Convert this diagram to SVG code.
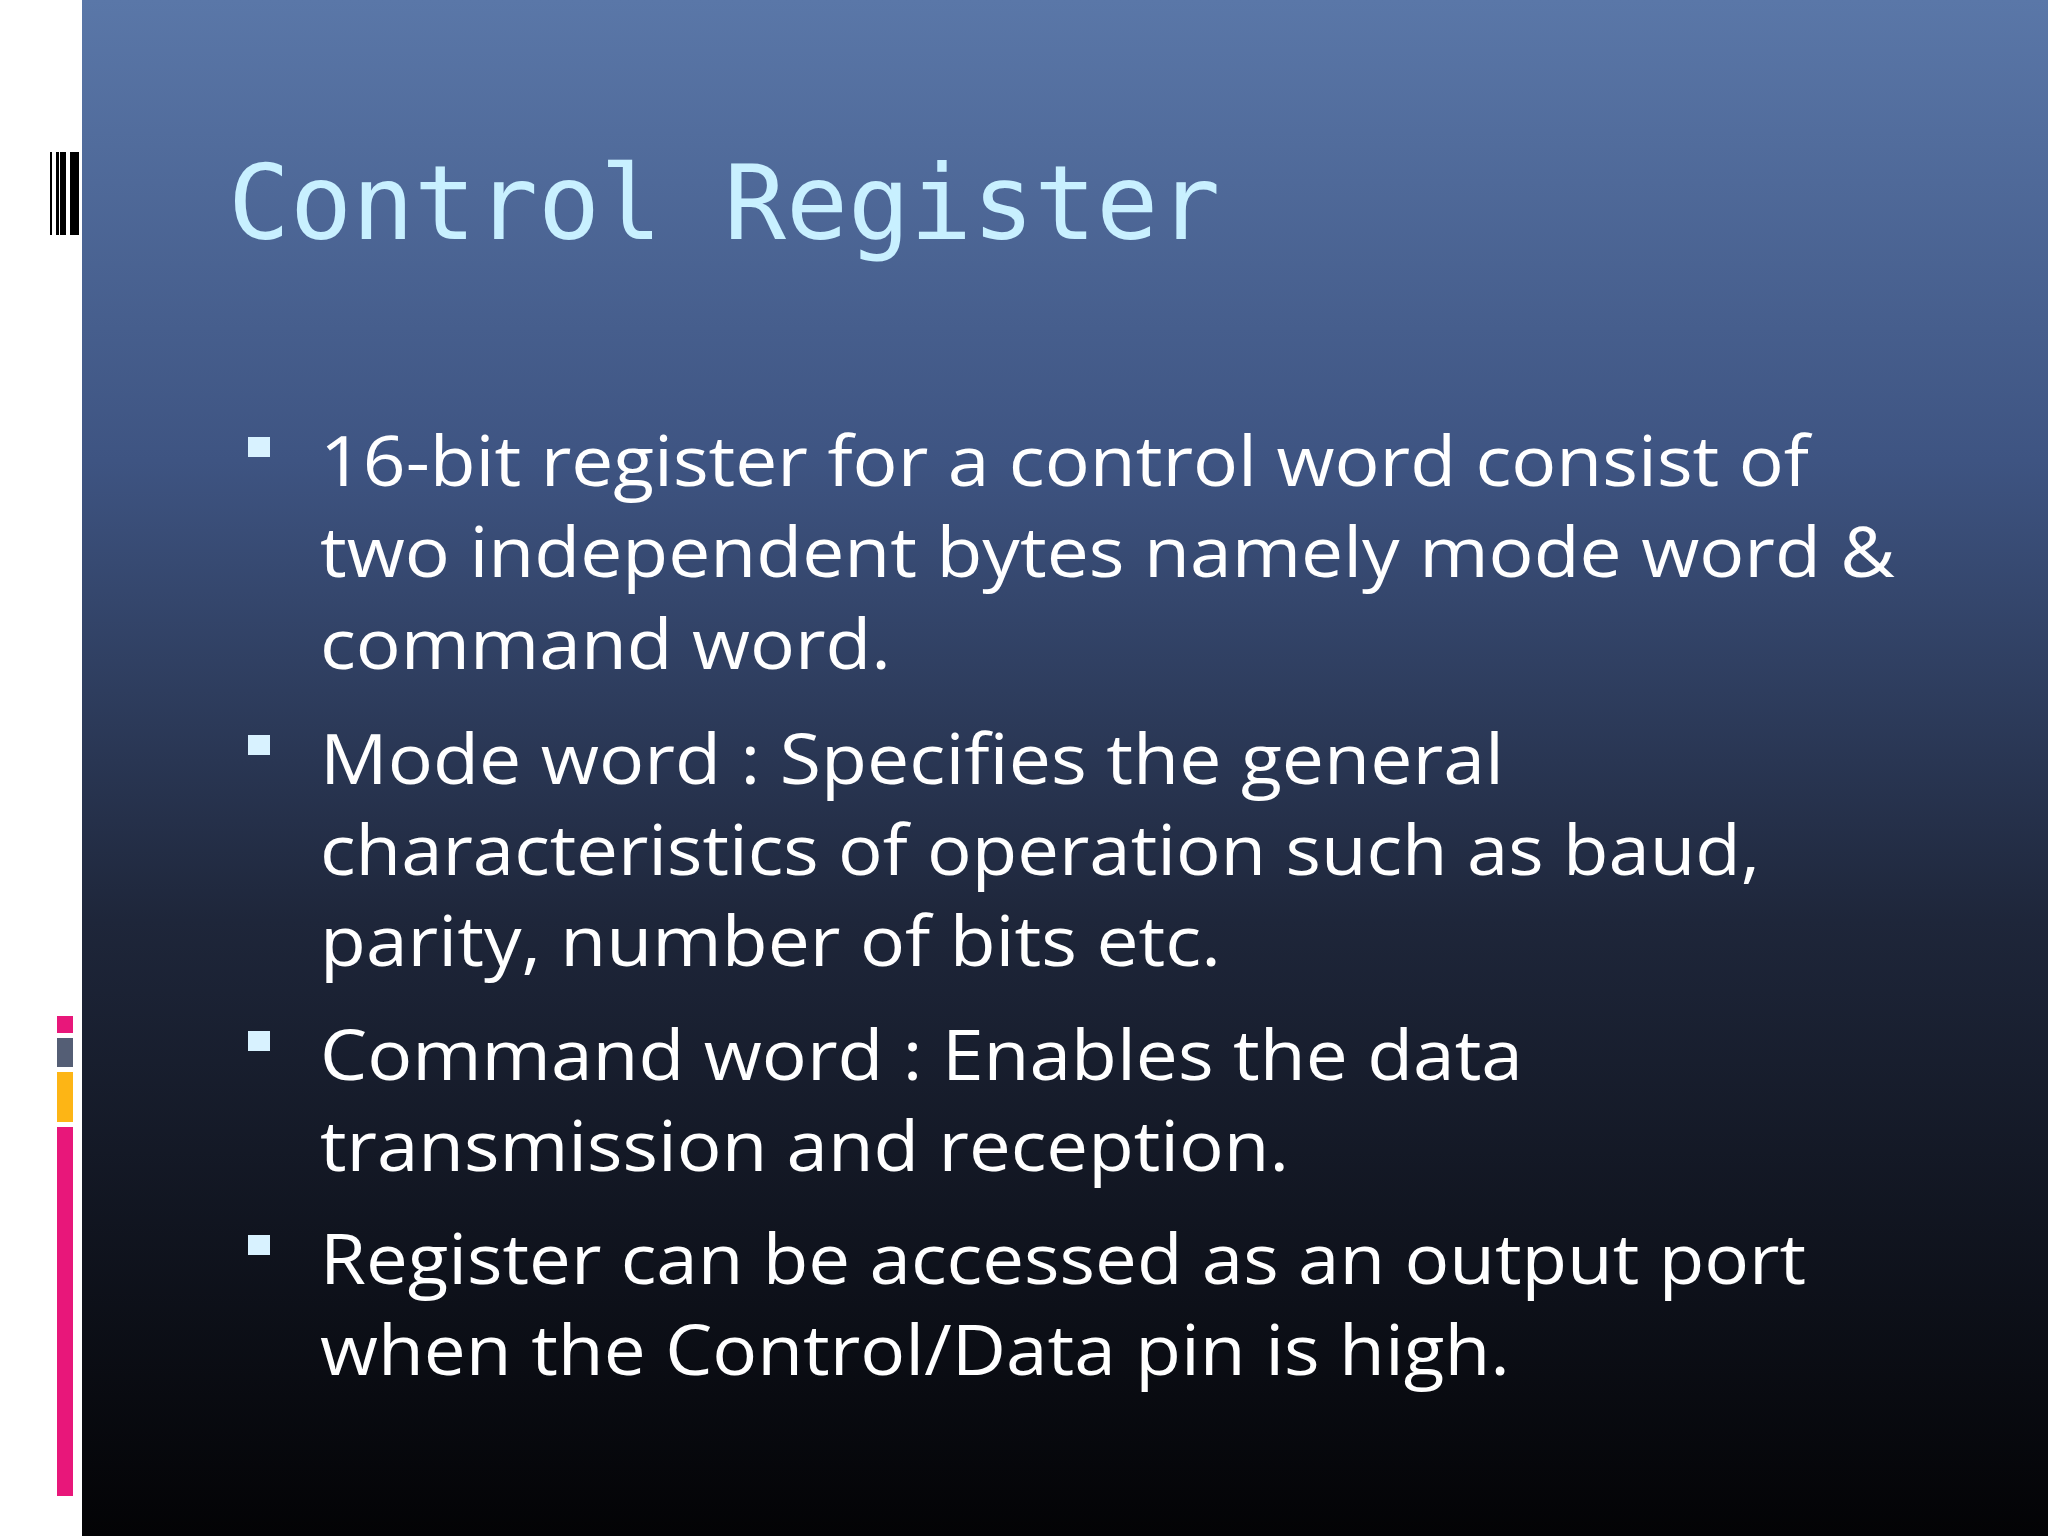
<svg xmlns="http://www.w3.org/2000/svg" width="2048" height="1536" viewBox="0 0 2048 1536">
<defs>
<linearGradient id="bg" x1="0" y1="0" x2="0" y2="1">
<stop offset="0" stop-color="#5a77a8"/>
<stop offset="0.3" stop-color="#3e5482"/>
<stop offset="0.6" stop-color="#1e263a"/>
<stop offset="1" stop-color="#030305"/>
</linearGradient>
<style>
.b{font-family:"Open Sans",Lato,sans-serif;font-size:70px;fill:#ffffff}
.sq{fill:#d8f2ff}
</style>
</defs>
<rect width="2048" height="1536" fill="#ffffff"/>
<rect x="82" y="0" width="1966" height="1536" fill="url(#bg)"/>
<g id="barcode" fill="#000">
<rect x="50" y="152" width="2" height="83"/>
<rect x="56" y="152" width="3" height="83"/>
<rect x="60" y="152" width="6" height="83"/>
<rect x="70" y="152" width="9" height="83"/>
</g>
<g id="sidebar">
<rect x="57" y="1016" width="16" height="17" fill="#e8177a"/>
<rect x="57" y="1038" width="16" height="29" fill="#545e75"/>
<rect x="57" y="1072" width="16" height="50" fill="#fdb515"/>
<rect x="57" y="1127" width="16" height="369" fill="#e8177a"/>
</g>
<text id="title" x="228" y="239" font-family="'DejaVu Sans Mono','Liberation Mono',monospace" font-size="103" fill="#c8f0ff">Control Register</text>
<g id="bullets">
<rect class="sq" x="248" y="437" width="22" height="20"/>
<rect class="sq" x="248" y="735" width="22" height="20"/>
<rect class="sq" x="248" y="1031" width="22" height="20"/>
<rect class="sq" x="248" y="1235" width="22" height="20"/>
<text class="b" x="320" y="486" textLength="1489" lengthAdjust="spacingAndGlyphs">16-bit register for a control word consist of</text>
<text class="b" x="320" y="577" textLength="1575" lengthAdjust="spacingAndGlyphs">two independent bytes namely mode word &amp;</text>
<text class="b" x="320" y="669" textLength="571" lengthAdjust="spacingAndGlyphs">command word.</text>
<text class="b" x="320" y="784" textLength="1184" lengthAdjust="spacingAndGlyphs">Mode word : Specifies the general</text>
<text class="b" x="320" y="875" textLength="1440" lengthAdjust="spacingAndGlyphs">characteristics of operation such as baud,</text>
<text class="b" x="320" y="966" textLength="901" lengthAdjust="spacingAndGlyphs">parity, number of bits etc.</text>
<text class="b" x="320" y="1080" textLength="1203" lengthAdjust="spacingAndGlyphs">Command word : Enables the data</text>
<text class="b" x="320" y="1171" textLength="969" lengthAdjust="spacingAndGlyphs">transmission and reception.</text>
<text class="b" x="320" y="1284" textLength="1486" lengthAdjust="spacingAndGlyphs">Register can be accessed as an output port</text>
<text class="b" x="320" y="1375" textLength="1190" lengthAdjust="spacingAndGlyphs">when the Control/Data pin is high.</text>
</g>
</svg>
